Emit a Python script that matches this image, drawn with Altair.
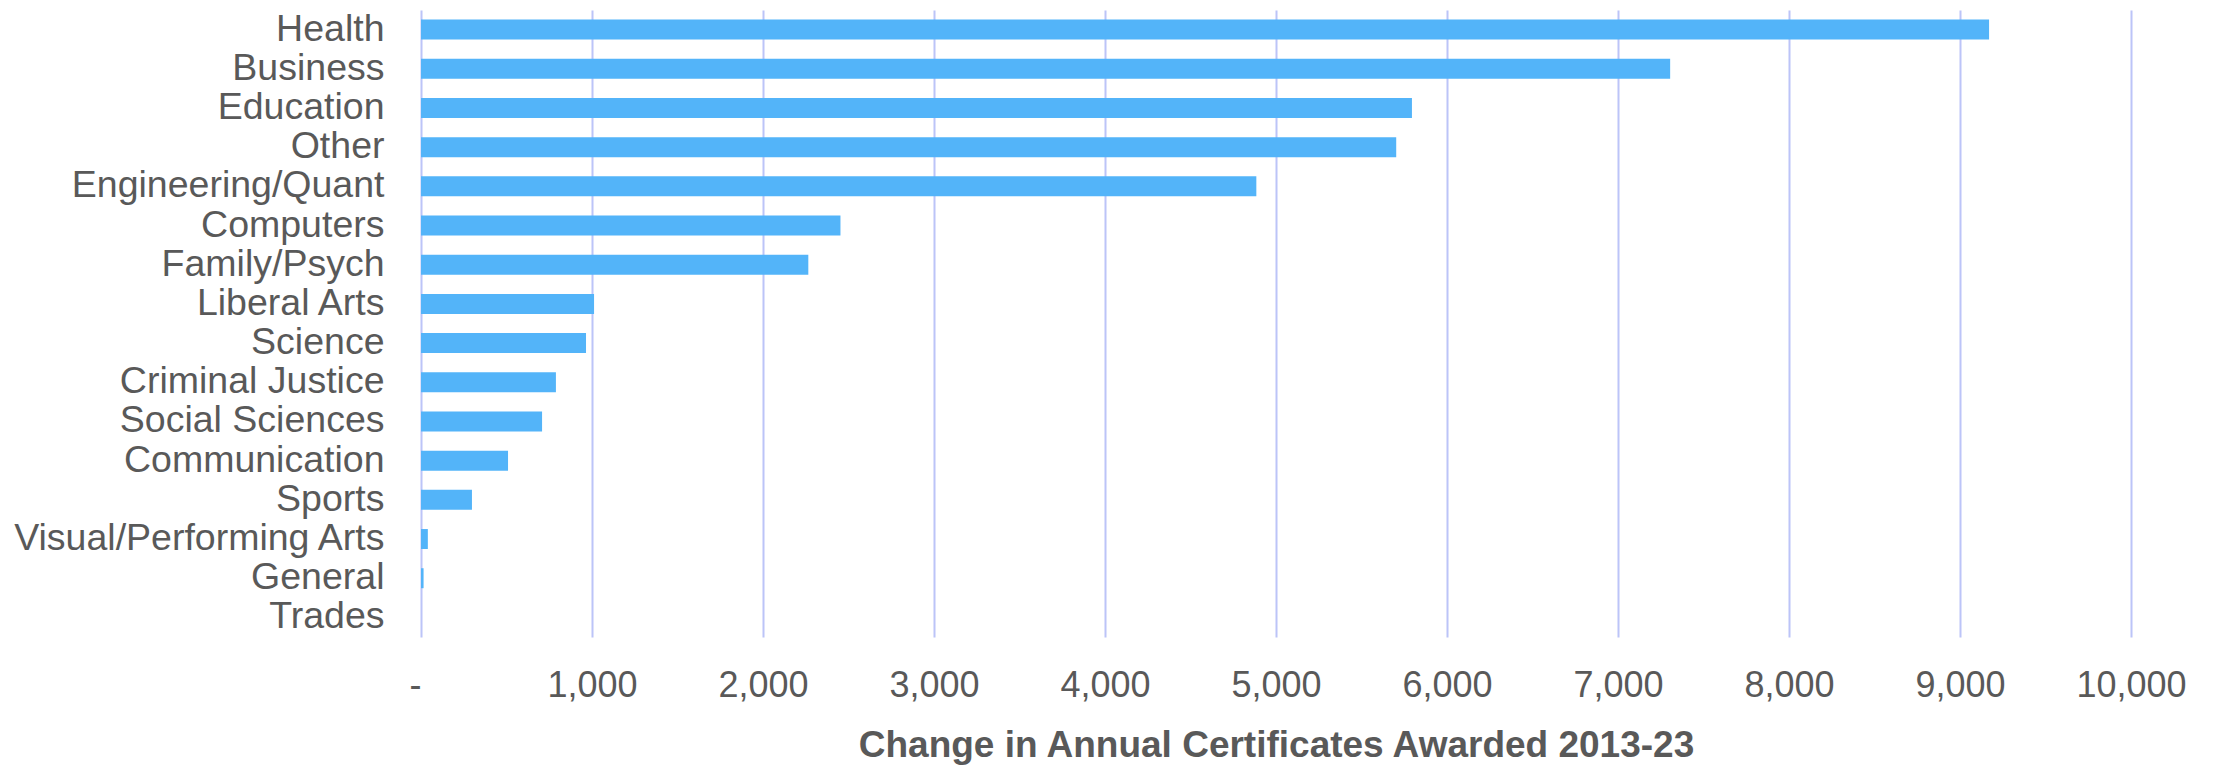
import altair as alt
import pandas as pd

categories = ["Health", "Business", "Education", "Other", "Engineering/Quant",
              "Computers", "Family/Psych", "Liberal Arts", "Science",
              "Criminal Justice", "Social Sciences", "Communication", "Sports",
              "Visual/Performing Arts", "General", "Trades"]
values = [9170, 7305, 5795, 5703, 4885, 2453, 2265, 1012, 965, 789, 708, 509,
          298, 40, 15, 0]
x_ticks = [0, 1000, 2000, 3000, 4000, 5000, 6000, 7000, 8000, 9000, 10000]

df = pd.DataFrame({"category": categories, "value": values})

FONT = "Liberation Sans"
TEXT = "#595959"

chart = alt.Chart(df).mark_bar(color="#53B4F9").encode(
    x=alt.X(
        "value:Q",
        scale=alt.Scale(domain=[0, 10000], nice=False),
        axis=alt.Axis(
            values=x_ticks,
            title="Change in Annual Certificates Awarded 2013-23",
            labelExpr="datum.value == 0 ? '-' : format(datum.value, ',')",
            labelAlign=alt.condition("datum.value == 0", alt.value("right"), alt.value("center")),
            grid=True,
            gridColor="#BCC4F8",
            gridWidth=2,
            domain=False,
            ticks=False,
            labelPadding=31,
            labelFontSize=36,
            labelFont=FONT,
            labelColor=TEXT,
            titleFontSize=37,
            titleFont=FONT,
            titleFontWeight="bold",
            titleColor=TEXT,
            titlePadding=24,
            labelFlush=False,
        ),
    ),
    y=alt.Y(
        "category:N",
        sort=categories,
        scale=alt.Scale(paddingInner=0.49, paddingOuter=0.245),
        axis=alt.Axis(
            title=None,
            domain=False,
            ticks=False,
            grid=False,
            labelPadding=37,
            labelFontSize=37.5,
            labelFont=FONT,
            labelColor=TEXT,
            labelLimit=0,
        ),
    ),
).properties(
    width=1710,
    height=627,
    autosize=alt.AutoSizeParams(type="none"),
    padding={"left": 413, "top": 2, "right": 70, "bottom": 132},
).configure_view(stroke=None)

chart.save("out.html", embed_options={"renderer": "svg", "actions": False})
